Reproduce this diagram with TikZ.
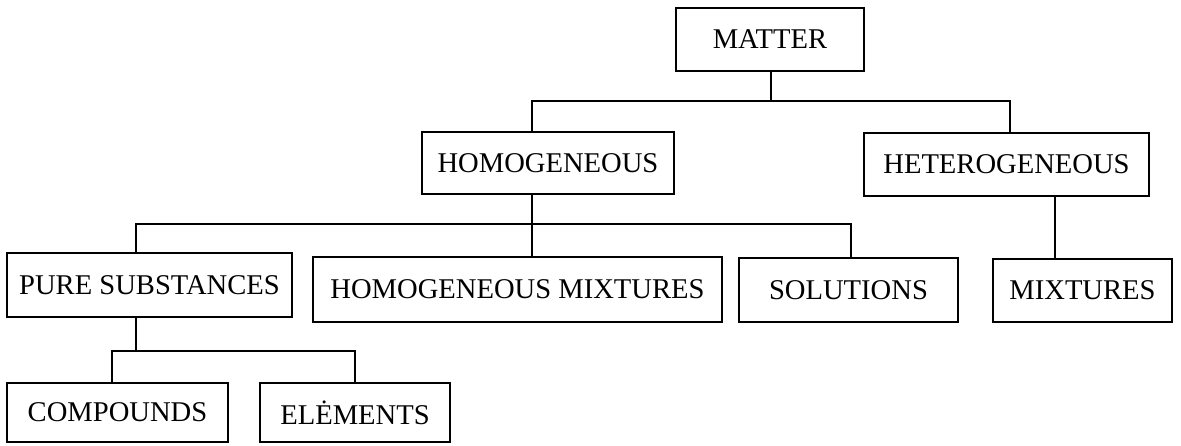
\documentclass[tikz,border=0pt]{standalone}
\usepackage{fontspec}
\setmainfont{Liberation Serif}
\begin{document}
\begin{tikzpicture}[x=1pt,y=-1pt,
  box/.style={draw, rectangle, inner sep=0pt, line width=1.5pt,
    font=\fontsize{28.6}{32}\selectfont},
  link/.style={line width=1.5pt}]
\useasboundingbox (0,0) rectangle (1181,445);
% boxes
\node[box, minimum width=188pt, minimum height=63pt] (matter) at (770,39.5) {MATTER};
\node[box, minimum width=252pt, minimum height=62pt] (homog) at (548,163) {HOMOGENEOUS};
\node[box, minimum width=285pt, minimum height=63pt] (heter) at (1006.5,164.5) {HETEROGENEOUS};
\node[box, minimum width=285pt, minimum height=64pt] (pure) at (149.5,285) {PURE SUBSTANCES};
\node[box, minimum width=409pt, minimum height=65pt] (hm) at (517.5,289.5) {HOMOGENEOUS MIXTURES};
\node[box, minimum width=219pt, minimum height=64pt] (sol) at (848.5,290) {SOLUTIONS};
\node[box, minimum width=179pt, minimum height=63pt] (mix) at (1082.5,290.5) {MIXTURES};
\node[box, minimum width=221pt, minimum height=59pt] (comp) at (117.5,412.5) {COMPOUNDS};
\node[box, minimum width=190pt, minimum height=59pt] (elem) at (355,412.5) {ELĖMENTS};
% junction coordinates
\coordinate (b1m) at (771,101);
\coordinate (b1l) at (532,101);
\coordinate (b1r) at (1010,101);
\coordinate (b2m) at (532,224);
\coordinate (b2l) at (136,224);
\coordinate (b2r) at (851,224);
\coordinate (hx) at (1055,0);
\coordinate (b3m) at (136,351);
\coordinate (b3l) at (112,351);
\coordinate (b3r) at (355,351);
% connectors
\draw[link] (matter.south -| b1m) -- (b1m);
\draw[link] (homog.north -| b1l) -- (b1l) -- (b1r) -- (heter.north -| b1r);
\draw[link] (homog.south -| b2m) -- (hm.north -| b2m);
\draw[link] (pure.north -| b2l) -- (b2l) -- (b2r) -- (sol.north -| b2r);
\draw[link] (heter.south -| hx) -- (mix.north -| hx);
\draw[link] (pure.south -| b3m) -- (b3m);
\draw[link] (comp.north -| b3l) -- (b3l) -- (b3r) -- (elem.north -| b3r);
\end{tikzpicture}
\end{document}
